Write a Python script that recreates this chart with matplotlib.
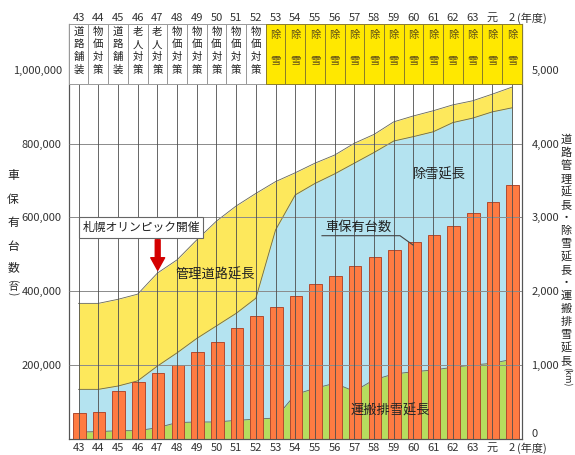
import numpy as np
import matplotlib.pyplot as plt
from matplotlib.patches import Rectangle
from matplotlib.lines import Line2D
import matplotlib.transforms as mtransforms

plt.rcParams['font.family'] = ['Noto Sans CJK JP', 'DejaVu Sans']

years = ['43', '44', '45', '46', '47', '48', '49', '50', '51', '52', '53', '54',
         '55', '56', '57', '58', '59', '60', '61', '62', '63', '元', '2']
themes = ['道路舗装', '物価対策', '道路舗装', '老人対策', '老人対策', '物価対策',
          '物価対策', '物価対策', '物価対策', '物価対策'] + ['除雪'] * 13

# 車保有台数 (台)
cars = [71000, 73000, 130000, 154000, 178000, 200000, 236000, 263000, 299000,
        333000, 358000, 388000, 420000, 442000, 468000, 492000, 512000, 533000,
        552000, 577000, 611000, 641000, 688000]
# 管理道路延長 (km)
road = [1835, 1835, 1890, 1960, 2245, 2425, 2695, 2950, 3155, 3325, 3485, 3605,
        3735, 3845, 4005, 4125, 4295, 4375, 4445, 4525, 4580, 4670, 4765]
# 除雪延長 (km)
snow = [670, 670, 715, 785, 985, 1165, 1360, 1530, 1700, 1905, 2830, 3305,
        3460, 3590, 3735, 3880, 4035, 4095, 4160, 4285, 4345, 4430, 4485]
# 運搬排雪延長 (km)
haul = [92, 97, 110, 110, 150, 220, 228, 228, 250, 266, 282, 600, 684, 752,
        645, 800, 878, 909, 932, 969, 1000, 1023, 1077]

W, H = 575, 455
fig = plt.figure(figsize=(W / 100, H / 100), dpi=100)


def P(x, y):
    # pixel position -> figure fraction
    return (x / W, 1 - y / H)


ax_l, ax_r, ax_b, ax_t = 68.7, 521.8, 438.8, 24.0
ax = fig.add_axes([ax_l / W, 1 - ax_b / H, (ax_r - ax_l) / W, (ax_b - ax_t) / H])
ax2 = ax.twinx()

x = np.arange(len(years))
top_frac = (ax_b - ax_t) / 369.0
hdr_frac = (ax_b - 84.0) / (ax_b - ax_t)

# areas (km, right scale)
ax.fill_between(x, 0, road, color='#fde85c', lw=0)
ax.fill_between(x, 0, snow, color='#b4e3f0', lw=0)
ax.fill_between(x, 0, haul, color='#b6dd5e', lw=0)
for s in (road, snow, haul):
    ax.plot(x, s, color='#666655', lw=0.6)
ax.set_ylim(0, 5000 * top_frac)
ax.set_xlim(-0.5, len(years) - 0.5)
ax.yaxis.tick_right()
ax.set_yticks([0, 1000, 2000, 3000, 4000, 5000])
ax.set_yticklabels(['0', '1,000', '2,000', '3,000', '4,000', '5,000'])
ax.tick_params(axis='y', length=0, pad=7, labelsize=8, labelcolor='#333')
ax.get_yticklabels()[0].set_va('bottom')
ax.set_xticks(x)
ax.set_xticklabels(years)
ax.tick_params(axis='x', length=0, pad=3, labelsize=8, labelcolor='#333')

# bars (cars, left scale)
ax2.bar(x + 0.04, cars, width=0.64, color='#ff7b42', edgecolor='#b04a30',
        lw=0.7, zorder=2)
ax2.set_ylim(0, 1e6 * top_frac)
ax2.yaxis.tick_left()
ax2.set_yticks([200000, 400000, 600000, 800000, 1000000])
ax2.set_yticklabels(['200,000', '400,000', '600,000', '800,000', '1,000,000'])
ax2.tick_params(axis='y', length=0, pad=5, labelsize=8, labelcolor='#333')

# grid over everything below the header
hdr_val = 1e6 * top_frac * hdr_frac
ax2.hlines([200000, 400000, 600000, 800000], -0.5, len(years) - 0.5,
           color='#8a8a8a', lw=0.7, zorder=3)
ax2.vlines(x, 0, hdr_val, color='#4d4d4d', lw=0.6, zorder=3)

for a in (ax, ax2):
    a.spines['top'].set_visible(False)
    for sp in ('left', 'right', 'bottom'):
        a.spines[sp].set_color('#555555')
        a.spines[sp].set_linewidth(0.8)

# header boxes
trans = mtransforms.blended_transform_factory(ax2.transData, ax2.transAxes)
for i, (yr, th) in enumerate(zip(years, themes)):
    snowy = th == '除雪'
    ax2.add_patch(Rectangle((i - 0.5, hdr_frac), 1, 1 - hdr_frac, transform=trans,
                            facecolor='#ffe800' if snowy else 'white',
                            edgecolor='#8a7d2a' if snowy else '#999999',
                            lw=0.7, zorder=10, clip_on=False))
    if snowy:
        for ch, yy in zip(th, (35, 61)):
            fig.text(*P(78.55 + i * 19.7, yy), ch, ha='center', va='center',
                     fontsize=7.5, color='#5a4a1a', zorder=11)
    else:
        for k, ch in enumerate(th):
            fig.text(*P(78.55 + i * 19.7, 32 + k * 12.5), ch, ha='center',
                     va='center', fontsize=7.5, color='#222', zorder=11)
    ax2.text(i, 1 + 6 / (ax_b - ax_t), yr, transform=trans, ha='center',
             va='center', fontsize=8, color='#333')
ax2.text(22.28, 1 + 6 / (ax_b - ax_t), '(年度)', transform=trans, ha='left',
         va='center', fontsize=8, color='#333')
ax2.text(22.28, -9.5 / (ax_b - ax_t), '(年度)', transform=trans, ha='left',
         va='center', fontsize=8, color='#333')

# axis titles
for ch, yy in zip('車保有台数', (175, 200, 222, 247, 268)):
    fig.text(*P(13, yy), ch, ha='center', va='center', fontsize=8.5, color='#222')
fig.text(*P(13, 281), '(', rotation=270, ha='center', va='center', fontsize=7, color='#222')
fig.text(*P(13, 287), '台', ha='center', va='center', fontsize=7, color='#222')
fig.text(*P(13, 294), ')', rotation=270, ha='center', va='center', fontsize=7, color='#222')

rlabel = list('道路管理延長・除雪延長・運搬排雪延長')
for k, ch in enumerate(rlabel):
    fig.text(*P(566, 140 + k * 13.0), ch, ha='center', va='center', fontsize=8,
             color='#222')
fig.text(*P(566, 140 + len(rlabel) * 13.0 + 3), '(km)', rotation=270,
         ha='center', va='center', fontsize=6.5, color='#222')

# annotations
fig.text(*P(215, 275), '管理道路延長', ha='center', va='center', fontsize=9.5, color='#222')
fig.text(*P(439, 175), '除雪延長', ha='center', va='center', fontsize=9.5, color='#222')
fig.text(*P(358, 227), '車保有台数', ha='center', va='center', fontsize=9.5, color='#222')
fig.text(*P(390, 411), '運搬排雪延長', ha='center', va='center', fontsize=9.5, color='#222')
fig.add_artist(Line2D([322 / W, 400 / W, 413 / W],
                      [1 - 235.7 / H, 1 - 235.7 / H, 1 - 245 / H],
                      color='#444', lw=0.8))

fig.text(*P(141, 227.5), '札幌オリンピック開催', ha='center', va='center',
         fontsize=8.5, color='#222',
         bbox=dict(boxstyle='square,pad=0.3', fc='white', ec='#666', lw=0.8))
ax2.annotate('', xy=P(157.7, 273), xytext=P(157.7, 237),
             xycoords='figure fraction', textcoords='figure fraction',
             arrowprops=dict(arrowstyle='simple,head_length=0.9,head_width=1.0,tail_width=0.35',
                             color='#d40000', mutation_scale=10), zorder=12)

fig.savefig('out.png', dpi=100)
